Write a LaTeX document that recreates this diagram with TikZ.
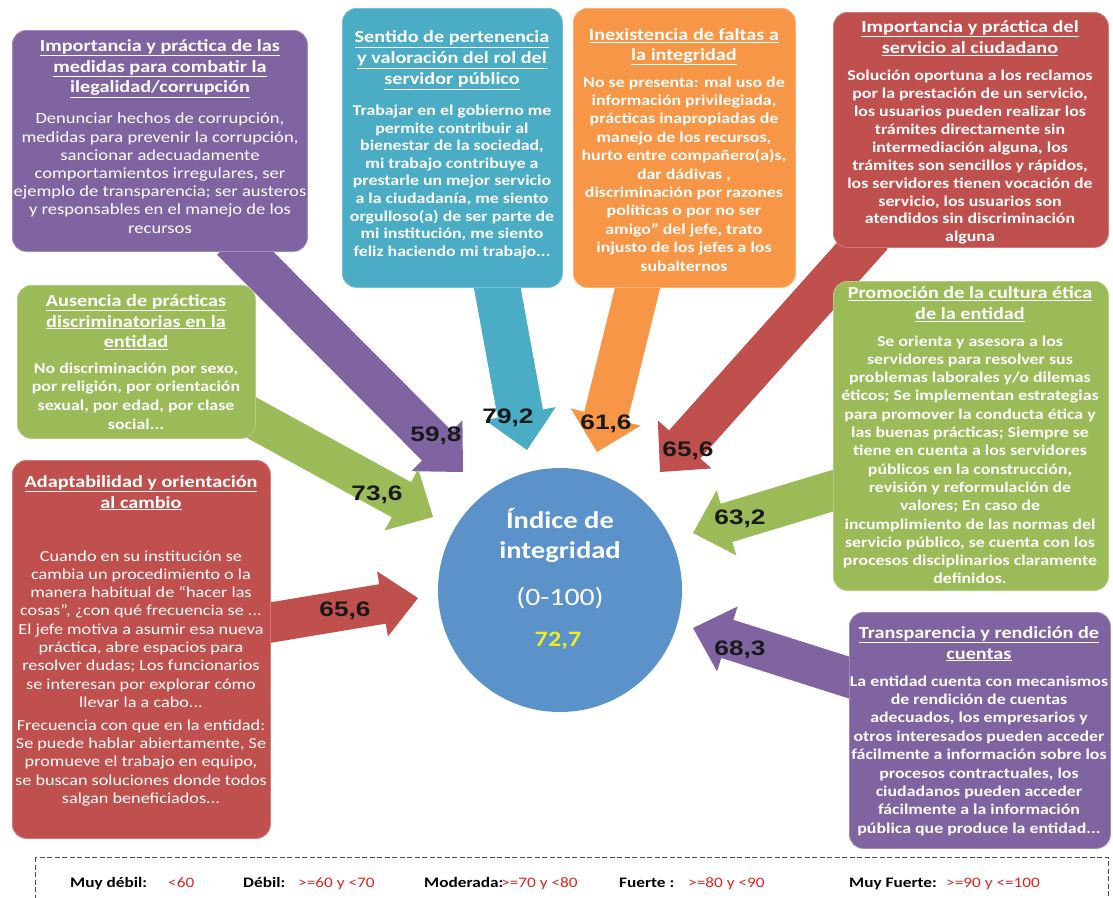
\documentclass[tikz,border=0pt]{standalone}
\usepackage{fontspec}
\setmainfont{Carlito}[FakeStretch=1.19]
\newfontfamily\numfont{Liberation Sans}[FakeStretch=1.25]
\usetikzlibrary{calc}
\definecolor{cpur}{HTML}{8064A2}
\definecolor{cteal}{HTML}{4BACC6}
\definecolor{corg}{HTML}{F79646}
\definecolor{cred}{HTML}{C0504D}
\definecolor{cgrn}{HTML}{9BBB59}
\definecolor{cblue}{HTML}{5A92C9}
\definecolor{cyel}{HTML}{EEEE22}
\definecolor{clegred}{HTML}{E02424}
% #1 colour, #2 tail, #3 tip, #4 shaft half width, #5 head half width, #6 head length
\newcommand{\blockarrow}[6]{%
  \coordinate (bH) at ($(#3)!#6!(#2)$);
  \fill[#1] ($(#2)!#4!90:(#3)$) -- ($(bH)!#4!-90:(#2)$) -- ($(bH)!#5!-90:(#2)$)
    -- (#3) -- ($(bH)!#5!90:(#2)$) -- ($(bH)!#4!90:(#2)$) -- ($(#2)!#4!-90:(#3)$) -- cycle;}
\begin{document}
\begin{tikzpicture}[x=1pt,y=-1pt,
  box/.style={draw=#1!75!white, line width=0.8pt, fill=#1, rounded corners=14pt,
    anchor=north west, inner sep=0pt},
  ttl/.style={text=white, align=center, inner sep=0pt, anchor=north,
    font=\fontsize{17}{#1}\selectfont\bfseries},
  bdy/.style={text=white, align=center, inner sep=0pt, anchor=north,
    font=\fontsize{15}{#1}\selectfont\bfseries},
  bdyr/.style={text=white, align=center, inner sep=0pt, anchor=north,
    font=\fontsize{15.3}{#1}\selectfont},
  num/.style={text=black!90, inner sep=0pt, font=\numfont\bfseries\fontsize{21}{21}\selectfont},
  leg/.style={anchor=base west, inner sep=0pt, font=\fontsize{14.5}{16}\selectfont\bfseries},
  legv/.style={anchor=base west, inner sep=0pt, text=clegred, font=\fontsize{14.5}{16}\selectfont}
]
\useasboundingbox (0,0) rectangle (1113,897);
\fill[white] (0,0) rectangle (1113,897);

% ---------- arrows (behind boxes) ----------
\coordinate (a1s) at (232,240);  \coordinate (a1e) at (463,472);
\coordinate (a2s) at (494,270);  \coordinate (a2e) at (527,450);
\coordinate (a3s) at (642,270);  \coordinate (a3e) at (597,452);
\coordinate (a4s) at (872,235);  \coordinate (a4e) at (660,472);
\coordinate (a5s) at (245,414);  \coordinate (a5e) at (433,517);
\coordinate (a6s) at (262,624);  \coordinate (a6e) at (418,598);
\coordinate (a7s) at (845,487);  \coordinate (a7e) at (693,533);
\coordinate (a8s) at (860,681);  \coordinate (a8e) at (693,628);
\blockarrow{cpur}{a1s}{a1e}{21pt}{36pt}{37pt}
\blockarrow{cteal}{a2s}{a2e}{23pt}{36pt}{37pt}
\blockarrow{corg}{a3s}{a3e}{22pt}{36pt}{36pt}
\blockarrow{cred}{a4s}{a4e}{21pt}{36pt}{37pt}
\blockarrow{cgrn}{a5s}{a5e}{20pt}{35pt}{36pt}
\blockarrow{cred}{a6s}{a6e}{20pt}{33pt}{36pt}
\blockarrow{cgrn}{a7s}{a7e}{20pt}{34pt}{35pt}
\blockarrow{cpur}{a8s}{a8e}{20pt}{34pt}{36pt}

% ---------- boxes ----------
\node[box=cpur,  minimum width=295pt, minimum height=221pt] (b1) at (12,30) {};
\node[box=cteal, minimum width=220pt, minimum height=279pt] (b2) at (342,8) {};
\node[box=corg,  minimum width=222pt, minimum height=279pt] (b3) at (573,8) {};
\node[box=cred,  minimum width=275pt, minimum height=235pt] (b4) at (833,12) {};
\node[box=cgrn,  minimum width=238pt, minimum height=153pt] (b5) at (17,285) {};
\node[box=cgrn,  minimum width=275pt, minimum height=309pt] (b6) at (833,281) {};
\node[box=cred,  minimum width=258pt, minimum height=378pt] (b7) at (12,460) {};
\node[box=cpur,  minimum width=261pt, minimum height=236pt] (b8) at (849,612) {};

% ---------- box texts ----------
\node[ttl=20.5] (t1) at (160,37) {\strut\underline{Importancia y práctica  de las}\\\underline{medidas para combatir la}\\\underline{ilegalidad/corrupción}};
\node[bdyr=18.2,font=\fontsize{15.6}{18.2}\selectfont] (d1) at (160,111) {\strut Denunciar hechos de corrupción,\\medidas para prevenir la corrupción,\\sancionar adecuadamente\\comportamientos irregulares, ser\\ejemplo de transparencia; ser austeros\\y responsables en el manejo de los\\recursos};

\node[ttl=21] (t2) at (452,28) {\strut\underline{Sentido de pertenencia}\\\underline{y valoración del rol del}\\\underline{servidor público}};
\node[bdy=17.6] (d2) at (452,103) {\strut Trabajar en el gobierno me\\permite contribuir al\\bienestar de la sociedad,\\mi trabajo contribuye a\\prestarle un mejor servicio\\a la ciudadanía,  me siento\\orgulloso(a) de ser parte de\\mi institución, me siento\\feliz haciendo mi trabajo...};

\node[ttl=19.5] (t3) at (684,27) {\strut\underline{Inexistencia de faltas a}\\\underline{la integridad}};
\node[bdy=18.4] (d3) at (684,74) {\strut No se presenta:  mal uso de\\información privilegiada,\\prácticas inapropiadas de\\manejo de los recursos,\\hurto entre compañero(a)s,\\dar dádivas ,\\discriminación por razones\\políticas o por no  ser\\amigo” del jefe, trato\\injusto de los jefes a los\\subalternos};

\node[ttl=21.5] (t4) at (970,17) {\strut\underline{Importancia y práctica del}\\\underline{servicio al ciudadano}};
\node[bdy=17.9] (d4) at (970,68) {\strut Solución oportuna a los reclamos\\por la prestación de un servicio,\\los usuarios pueden realizar los\\trámites directamente sin\\intermediación alguna, los\\trámites son sencillos y rápidos,\\los servidores tienen vocación de\\servicio, los usuarios son\\atendidos sin discriminación\\alguna};

\node[ttl=20.5] (t5) at (136,292) {\strut\underline{Ausencia de prácticas}\\\underline{discriminatorias en la}\\\underline{entidad}};
\node[bdy=18.7] (d5) at (136,360) {\strut No discriminación por sexo,\\por religión, por orientación\\sexual, por edad, por clase\\social...};

\node[ttl=21] (t6) at (970,284) {\strut\underline{Promoción de la cultura ética}\\\underline{de la entidad}};
\node[bdy=18.3] (d6) at (970,333) {\strut Se orienta y asesora a los\\servidores para resolver sus\\problemas laborales y/o dilemas\\éticos; Se implementan estrategias\\para promover la conducta ética y\\las buenas prácticas; Siempre se\\tiene en cuenta a los servidores\\públicos en la construcción,\\revisión y reformulación de\\valores; En caso de\\incumplimiento de las normas del\\servicio público, se cuenta con los\\procesos disciplinarios claramente\\definidos.};

\node[ttl=20.5] (t7) at (141,473) {\strut\underline{Adaptabilidad y orientación}\\\underline{al cambio}};
\node[bdyr=18.3] (d7) at (141,548) {\strut Cuando en su institución se\\cambia un procedimiento o la\\manera habitual de “hacer las\\cosas”, ¿con qué frecuencia se ...\\El jefe motiva a asumir esa nueva\\práctica, abre espacios para\\resolver dudas; Los funcionarios\\se interesan por explorar cómo\\llevar la a cabo...\\[4.5pt]Frecuencia con que en la entidad:\\Se puede hablar abiertamente, Se\\promueve el trabajo en equipo,\\se buscan soluciones donde todos\\salgan beneficiados...};

\node[ttl=20.5] (t8) at (979,624) {\strut\underline{Transparencia y rendición de}\\\underline{cuentas}};
\node[bdy=18.4] (d8) at (979,673) {\strut La entidad cuenta con mecanismos\\de rendición de cuentas\\adecuados, los empresarios y\\otros interesados pueden acceder\\fácilmente a información sobre los\\procesos contractuales, los\\ciudadanos pueden acceder\\fácilmente a la información\\pública que produce la entidad...};

% ---------- centre circle ----------
\node[circle, fill=cblue, minimum size=244pt, inner sep=0pt] (c) at (560,590) {};
\node[anchor=base, inner sep=0pt, text=white, font=\fontsize{24}{28}\selectfont\bfseries] (c1) at (560,528) {Índice de};
\node[anchor=base, inner sep=0pt, text=white, font=\fontsize{24}{28}\selectfont\bfseries] (c2) at (560,558) {integridad};
\node[anchor=base, inner sep=0pt, text=white, font=\fontsize{25}{28}\selectfont] (c3) at (560,605) {(0-100)};
\node[anchor=base, inner sep=0pt, text=cyel, font=\fontsize{22}{26}\selectfont\bfseries] (c4) at (558,646) {72,7};

% ---------- arrow values ----------
\node[num] (n1) at (436,436) {59,8};
\node[num] (n2) at (508,418) {79,2};
\node[num] (n3) at (606,424) {61,6};
\node[num] (n4) at (688,451) {65,6};
\node[num] (n5) at (377,495) {73,6};
\node[num] (n6) at (345,611) {65,6};
\node[num] (n7) at (740,519) {63,2};
\node[num] (n8) at (740,650) {68,3};

% ---------- legend ----------
\draw[black!70, line width=0.8pt, dash pattern=on 5pt off 2.5pt] (35,857) rectangle (1108,910);
\node[leg]  (l1) at (70,887)  {Muy débil:};
\node[legv] (v1) at (168,887) {<60};
\node[leg]  (l2) at (243,887) {Débil:};
\node[legv] (v2) at (298,887) {>=60 y <70};
\node[leg]  (l3) at (424,887) {Moderada:};
\node[legv] (v3) at (501,887) {>=70 y <80};
\node[leg]  (l4) at (619,887) {Fuerte :};
\node[legv] (v4) at (688,887) {>=80 y <90};
\node[leg]  (l5) at (849,887) {Muy Fuerte:};
\node[legv] (v5) at (946,887) {>=90 y <=100};
\end{tikzpicture}
\end{document}
